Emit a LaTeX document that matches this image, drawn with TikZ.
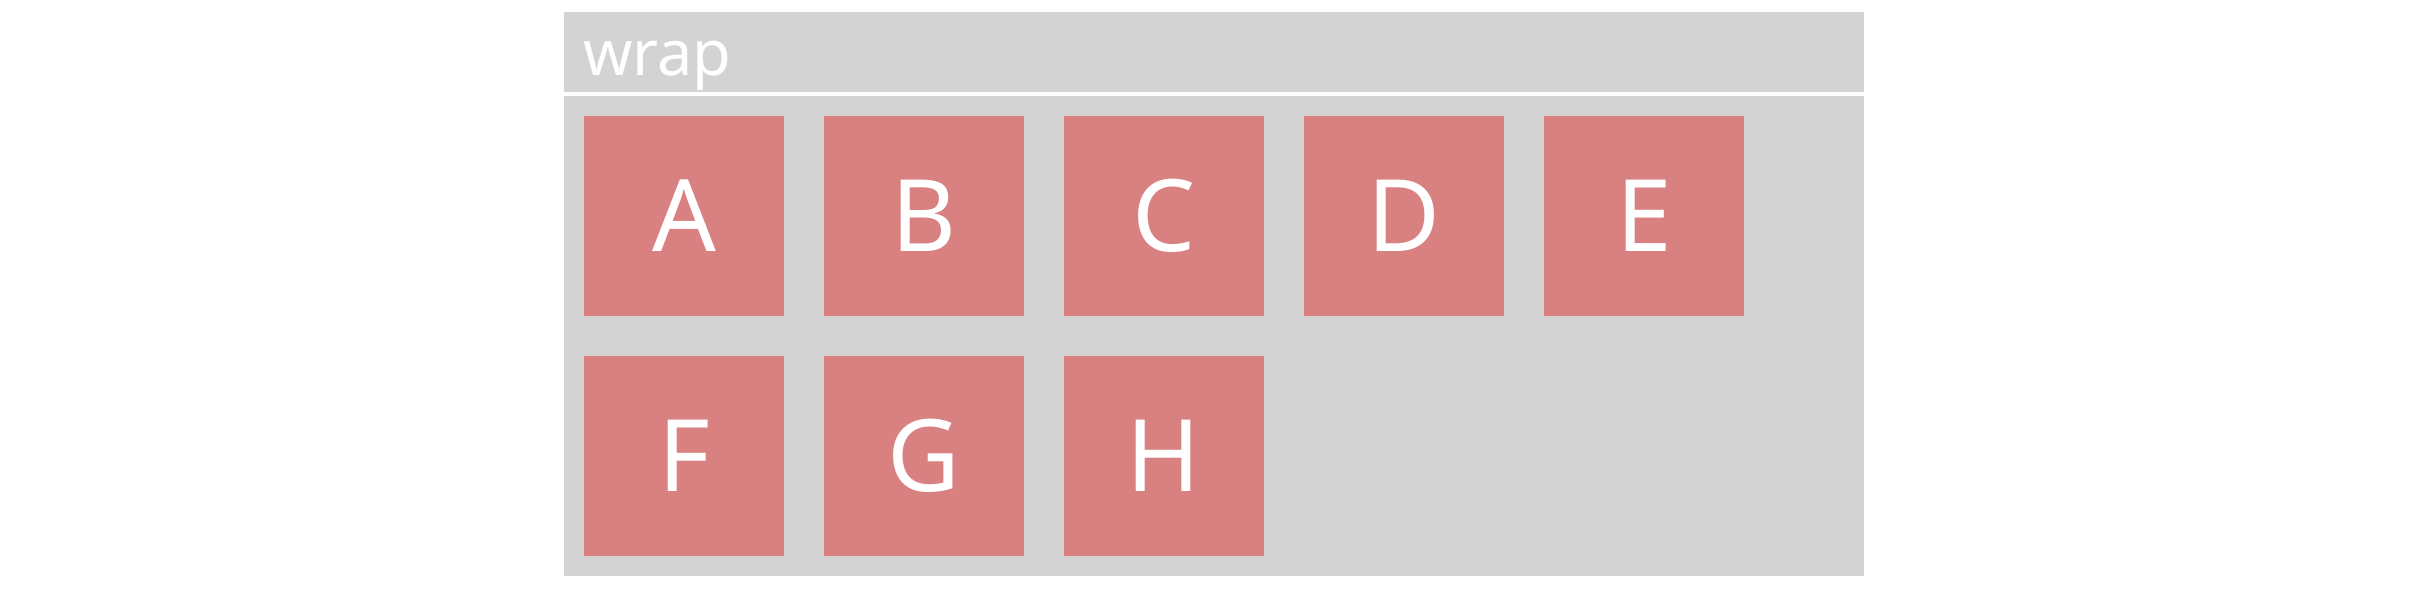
\documentclass[tikz,border=0pt]{standalone}
\usepackage{fontspec}
\setmainfont{Noto Sans}
\definecolor{panelgrey}{RGB}{211,211,211}
\definecolor{cellred}{RGB}{217,128,128}
\begin{document}
\begin{tikzpicture}[x=1pt,y=-1pt,
  cell/.style={fill=cellred,draw=none,minimum width=200pt,minimum height=200pt,inner sep=0pt,outer sep=0pt,text=white,font=\fontsize{100}{110}\selectfont},
  panel/.style={fill=panelgrey,draw=none,inner sep=0pt,outer sep=0pt}]
\useasboundingbox (0,0) rectangle (2427,589);
\fill[white] (0,0) rectangle (2427,589);
\node[panel,anchor=north west,minimum width=1300pt,minimum height=80pt] (header) at (564,12) {};
\node[panel,anchor=north west,minimum width=1300pt,minimum height=480pt] (body) at (564,96) {};
\node[anchor=base west,inner sep=0pt,text=white,font=\fontsize{63}{70}\selectfont] (title) at (583,75) {wrap};
\node[cell] (A) at (684,216) {A};
\node[cell] (B) at (924,216) {B};
\node[cell] (C) at (1164,216) {C};
\node[cell] (D) at (1404,216) {D};
\node[cell] (E) at (1644,216) {E};
\node[cell] (F) at (684,456) {F};
\node[cell] (G) at (924,456) {G};
\node[cell] (H) at (1164,456) {H};
\end{tikzpicture}
\end{document}
